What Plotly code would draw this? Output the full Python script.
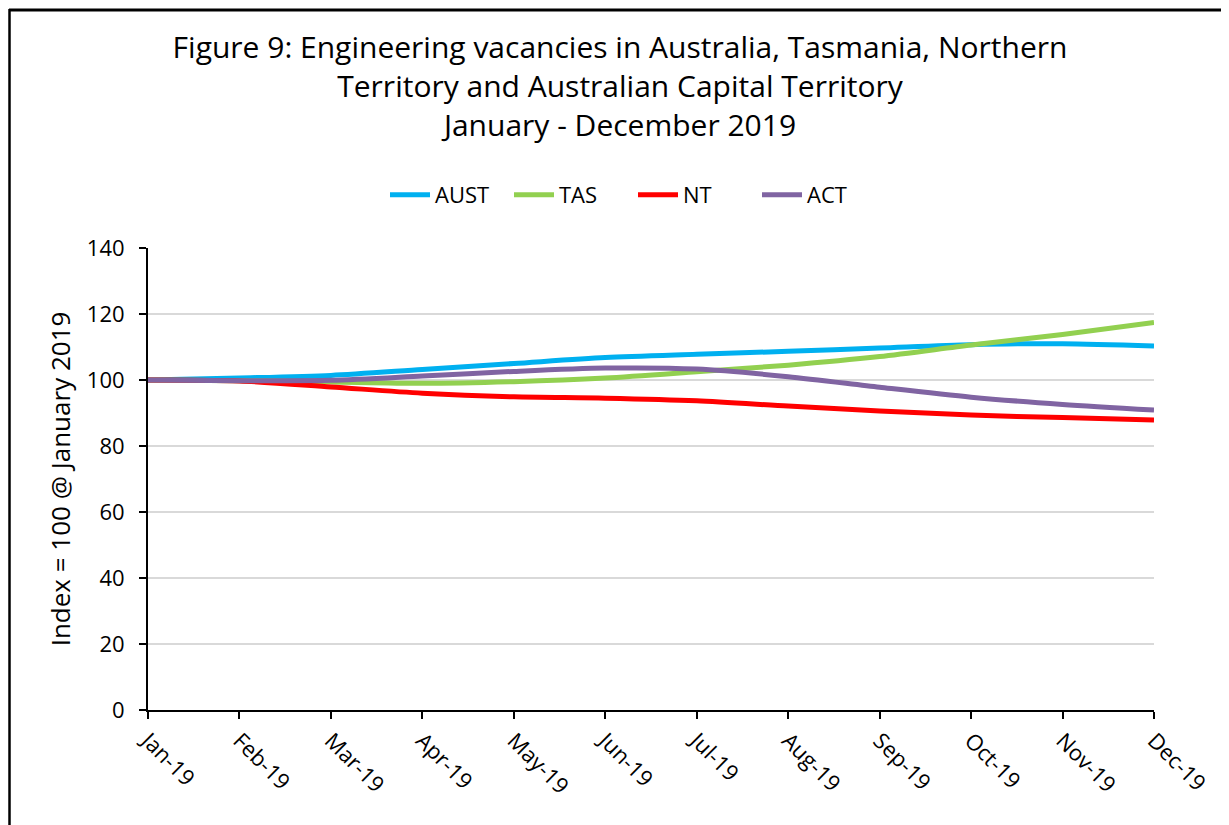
import plotly.graph_objects as go

months = ["Jan-19", "Feb-19", "Mar-19", "Apr-19", "May-19", "Jun-19",
          "Jul-19", "Aug-19", "Sep-19", "Oct-19", "Nov-19", "Dec-19"]
aust = [100.0, 100.6, 101.4, 103.2, 105.0, 106.8, 107.8, 108.7, 109.7, 110.7, 111.0, 110.3]
tas = [100.0, 99.8, 99.4, 99.0, 99.5, 100.6, 102.5, 104.5, 107.1, 110.6, 113.8, 117.4]
nt = [100.0, 99.7, 97.9, 96.0, 94.9, 94.5, 93.7, 92.1, 90.6, 89.4, 88.6, 87.9]
act = [100.0, 99.8, 99.9, 101.2, 102.6, 103.6, 103.3, 101.0, 97.8, 94.8, 92.6, 90.9]

series = [("AUST", aust, "#00B0F0"), ("TAS", tas, "#92D050"),
          ("NT", nt, "#FF0000"), ("ACT", act, "#8064A2")]

OFF = 8  # page body margin
W, H = 1229 - OFF, 825 - OFF
L, R = 148 - OFF, 1229 - 1154
T, B = 248 - OFF, 825 - 710
FONT = "Open Sans"

fig = go.Figure()
for name, vals, col in series:
    fig.add_trace(go.Scatter(x=months, y=vals, name=name, mode="lines",
                             line=dict(color=col, width=5, shape="spline", smoothing=0.8)))

pw, ph = W - L - R, H - T - B
def px(x):
    return (x - OFF - L) / pw
def py(y):
    return (H - B - (y - OFF)) / ph

fig.update_layout(
    width=W, height=H,
    margin=dict(l=L, r=R, t=T, b=B),
    paper_bgcolor="white", plot_bgcolor="white",
    font=dict(family=FONT, color="#000000"),
    title=dict(text="Figure 9: Engineering vacancies in Australia, Tasmania, Northern<br>Territory and Australian Capital Territory<br>January - December 2019",
               x=(620 - OFF) / W, xanchor="center", yref="container", y=1 - (58 - OFF) / H, yanchor="top",
               font=dict(size=30, family=FONT, color="#000000")),
    legend=dict(orientation="h", x=px(633), xanchor="center", y=py(195), yanchor="middle",
                font=dict(size=22, family=FONT), itemwidth=40, tracegroupgap=0,
                entrywidth=69, entrywidthmode="pixels"),
    showlegend=True,
)
fig.update_xaxes(type="category", showline=True, linecolor="#000000", linewidth=2,
                 ticks="outside", ticklen=7, tickwidth=2, tickcolor="#000000",
                 tickangle=45, tickfont=dict(size=22, family=FONT),
                 showgrid=False, range=[0, 11], zeroline=False)
fig.update_yaxes(range=[0, 140], dtick=20, showline=True, linecolor="#000000", linewidth=2,
                 ticks="outside", ticklen=7, tickwidth=2, tickcolor="#000000",
                 ticklabelstandoff=10,
                 tickfont=dict(size=22, family=FONT), showgrid=True, gridcolor="#D9D9D9",
                 gridwidth=2, zeroline=False,
                 title=dict(text="Index = 100 @ January 2019", font=dict(size=26, family=FONT),
                            standoff=9))

fig.add_shape(type="line", xref="paper", yref="paper", x0=px(9.5), x1=px(9.5), y0=py(9), y1=py(H + 40),
              line=dict(color="#000000", width=2.5))
fig.add_shape(type="line", xref="paper", yref="paper", x0=px(9), x1=px(W + 40), y0=py(10), y1=py(10),
              line=dict(color="#000000", width=3))

fig.write_html("out.html")
